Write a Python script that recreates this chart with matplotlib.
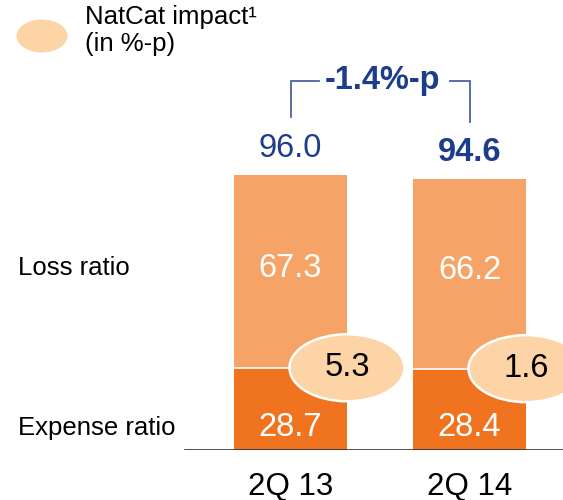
import matplotlib
matplotlib.use("Agg")
import matplotlib.pyplot as plt
from matplotlib.patches import Ellipse

plt.rcParams['font.family'] = ['Liberation Sans', 'DejaVu Sans']

categories = ["2Q 13", "2Q 14"]
expense_ratio = [28.7, 28.4]
loss_ratio = [67.3, 66.2]
natcat_impact = [5.3, 1.6]
combined_ratio = [96.0, 94.6]
change_label = "-1.4%-p"

C_EXPENSE = "#F07320"
C_LOSS = "#F6A368"
C_NATCAT = "#FDD4A6"
C_BLUE = "#1D3C8C"
C_BRACKET = "#4A64A0"

W, H = 563, 500
fig = plt.figure(figsize=(W / 100, H / 100), dpi=100)

# axes: baseline 50 px above the bottom edge, 2.865 px per ratio point
px_per_unit = 2.865
ax = fig.add_axes([0, 50 / H, 1, 450 / H])
ax.set_ylim(0, 450 / px_per_unit)
step = 179.0
c0 = 290.5
ax.set_xlim(-c0 / step, 1 + (W - c0 - step) / step)
ax.axis("off")

x = [0, 1]
bw = 113 / step
ax.bar(x, expense_ratio, width=bw, color=C_EXPENSE, edgecolor="none", zorder=2)
ax.bar(x, loss_ratio, width=bw, bottom=expense_ratio, color=C_LOSS,
       edgecolor="none", zorder=2)

# thin white seam between the stacked segments
for xi, e in zip(x, expense_ratio):
    ax.plot([xi - bw / 2, xi + bw / 2], [e, e], color="white", lw=1.2, zorder=3)

ax.axhline(0, xmin=185 / W, xmax=1, color="#333333", lw=1.2, zorder=4)

ell_w = 115 / step
ell_h = 67 / px_per_unit
for xi, e, l, n, tot in zip(x, expense_ratio, loss_ratio, natcat_impact, combined_ratio):
    ax.text(xi, 8.0, f"{e:.1f}", ha="center", va="center", color="white",
            fontsize=23.5, zorder=5)
    ax.text(xi, e + l / 2 + 1.0, f"{l:.1f}", ha="center", va="center",
            color="white", fontsize=23.5, zorder=5)
    ex = xi + bw / 2
    ax.add_patch(Ellipse((ex, e), ell_w, ell_h, facecolor=C_NATCAT,
                         edgecolor="white", lw=1.8, zorder=6, clip_on=False))
    ax.text(ex, e, f"{n:.1f}", ha="center", va="center", color="black",
            fontsize=23.5, zorder=7)

ax.text(x[0], combined_ratio[0] + 9.4, f"{combined_ratio[0]:.1f}", ha="center",
        va="center", color=C_BLUE, fontsize=23.5)
ax.text(x[1], combined_ratio[1] + 9.1, f"{combined_ratio[1]:.1f}", ha="center",
        va="center", color=C_BLUE, fontsize=23.5, fontweight="bold")

# bracket showing the year-on-year change
yb = 128.8
ax.plot([x[0], x[0], x[0] + 28 / step], [116.2, yb, yb], color=C_BRACKET, lw=1.3,
        solid_joinstyle="miter")
ax.plot([x[1] - 20 / step, x[1], x[1]], [yb, yb, 114.5], color=C_BRACKET, lw=1.3,
        solid_joinstyle="miter")
ax.text((x[0] + x[1]) / 2 + 3 / step, yb, change_label, ha="center", va="center",
        color=C_BLUE, fontsize=23.5, fontweight="bold")

for xi, cat in zip(x, categories):
    ax.text(xi, -37 / px_per_unit, cat, ha="center", va="center", color="black",
            fontsize=22.5)

fig.text(18 / W, 1 - 268 / H, "Loss ratio", ha="left", va="center", fontsize=18.5)
fig.text(18 / W, 1 - 428 / H, "Expense ratio", ha="left", va="center", fontsize=18.5)

fig.add_artist(Ellipse((42 / W, 1 - 36 / H), 51 / W, 33 / H, facecolor=C_NATCAT,
                       edgecolor="none", transform=fig.transFigure))
fig.text(85 / W, 1 - 17 / H, "NatCat impact¹", ha="left", va="center",
         fontsize=18.5)
fig.text(85 / W, 1 - 44 / H, "(in %-p)", ha="left", va="center", fontsize=18.5)

fig.savefig("out.png", dpi=100)
